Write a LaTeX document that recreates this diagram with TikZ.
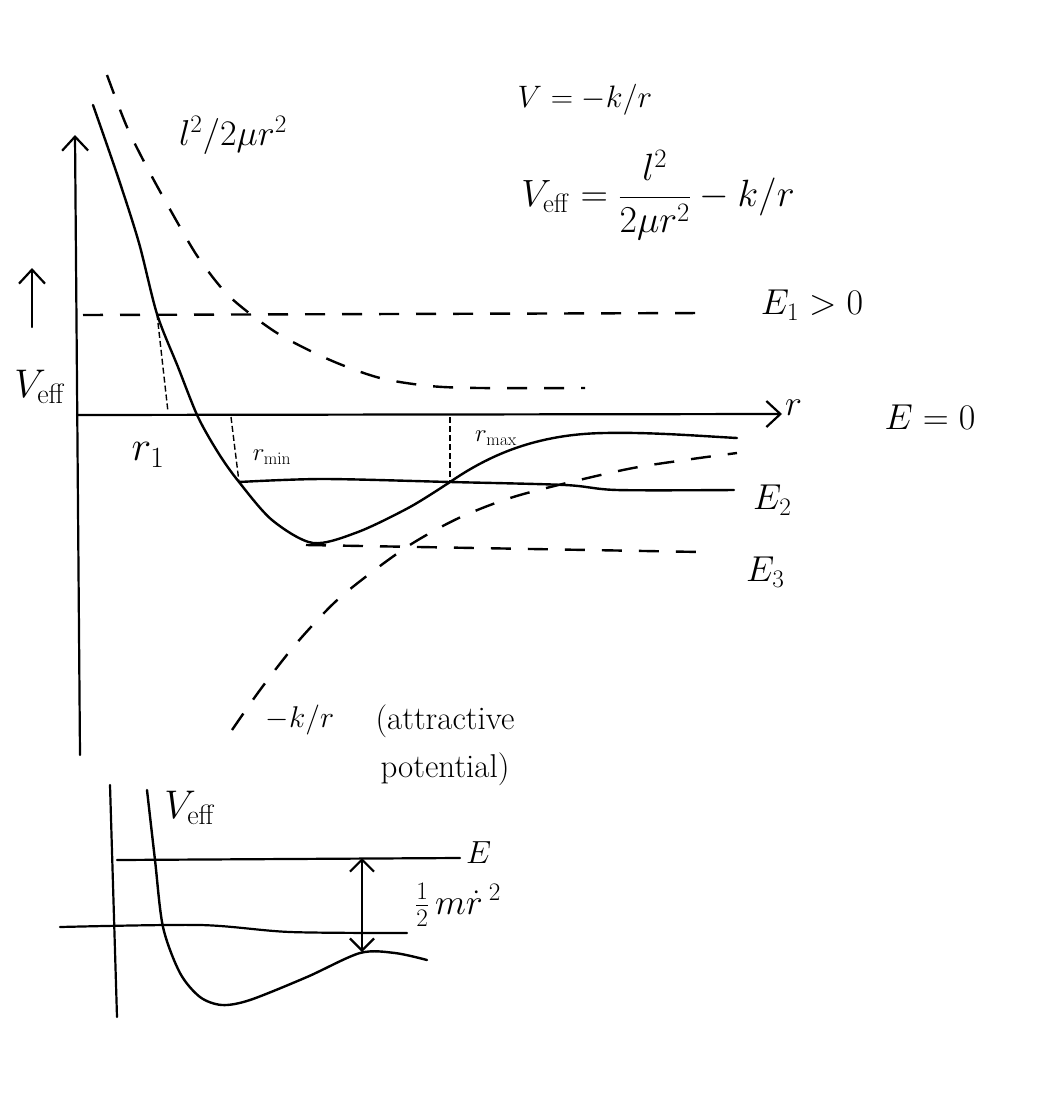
\RequirePackage{fix-cm}
\documentclass[tikz,border=0pt]{standalone}
\usepackage{amsmath}
\usetikzlibrary{arrows.meta}

\begin{document}
\begin{tikzpicture}[x=1pt, y=-1pt,
  ax/.style={line width=2.2pt, line cap=round},
  cv/.style={line width=2.4pt, line cap=round, line join=round},
  dl/.style={line width=2.4pt, dash pattern=on 20pt off 17pt},
  gd/.style={line width=1.4pt, dash pattern=on 6pt off 3pt},
  tip/.style={-{Straight Barb[length=14pt,width=26pt,line width=2.2pt]}},
  lbl/.style={font=\fontsize{36}{40}\selectfont, inner sep=1pt},
  sm/.style={font=\fontsize{25}{30}\selectfont, inner sep=1pt}]

\useasboundingbox (0,0) rectangle (1058,1103);

% main plot
\coordinate (O) at (77,415);
\coordinate (ytop) at (75,135);
\coordinate (ybot) at (80,755);
\coordinate (xend) at (782,414);
\draw[ax, tip] (ybot) -- (ytop);
\draw[ax, tip] (O) -- (xend);
\node[lbl, anchor=west] (rlab) at (784,408) {$r$};
\node[lbl] (ezero) at (930,417) {$E=0$};

\coordinate (ua) at (32,327);
\coordinate (ub) at (32,268);
\draw[ax, tip] (ua) -- (ub);
\node[font=\fontsize{40}{44}\selectfont, inner sep=1pt] (vlab) at (40,387) {$V_{\mathrm{eff}}$};

% turning points
\coordinate (p1) at (157,314);
\coordinate (q1) at (168,412);
\coordinate (pmin) at (239,482);
\coordinate (qmin) at (231,417);
\coordinate (pmax) at (450,482);
\coordinate (qmax) at (450,417);
\coordinate (vend) at (737,438);

% effective potential
\draw[cv] plot[smooth] coordinates {(93,105) (118,177) (139,243) (p1)
  (178,367) (198,417) (219,454) (pmin) (272,520) (313,543) (358,532)
  (410,507) (pmax)}
  .. controls (488,456) and (535,434) .. (605,433)
  .. controls (650,432) and (700,436) .. (vend);

% centrifugal and attractive parts
\draw[dl] plot[smooth] coordinates {(107,75) (127,127) (150,173) (180,227) (200,260)
  (230,297) (277,333) (330,360) (380,378) (430,386) (480,388) (585,388)};
\draw[dl] plot[smooth] coordinates {(232,730) (260,690) (295,645) (334,603) (372,572)
  (413,543) (461,517) (520,495) (623,470) (685,460) (737,453)};

% energy levels
\coordinate (e1a) at (83,315);
\coordinate (e1b) at (707,313);
\draw[dl] (e1a) -- (e1b);
\node[lbl] (e1lab) at (812,305) {$E_1>0$};

\draw[cv] plot[smooth] coordinates {(pmin) (323,479) (pmax) (565,485) (617,490) (734,490)};
\node[lbl, anchor=west] (e2lab) at (752,500) {$E_2$};

\coordinate (e3a) at (306,545);
\coordinate (e3b) at (701,552);
\draw[dl] (e3a) -- (e3b);
\node[lbl, anchor=west] (e3lab) at (745,572) {$E_3$};

\draw[gd] (p1) -- (q1);
\draw[gd] (qmin) -- (pmin);
\draw[gd] (qmax) -- (pmax);
\node[font=\fontsize{42}{46}\selectfont, inner sep=1pt] (r1lab) at (148,455) {$r_1$};
\node[sm] (rminlab) at (272,457) {$r_{\mathrm{min}}$};
\node[sm] (rmaxlab) at (496,438) {$r_{\mathrm{max}}$};

% formulae
\node[lbl] (cflab) at (233,135) {$l^2/2\mu r^2$};
\node[font=\fontsize{31}{34}\selectfont, inner sep=1pt] (vdef) at (585,100) {$V=-k/r$};
\node[font=\fontsize{38}{42}\selectfont, inner sep=1pt] (veffdef) at (658,195)
  {$V_{\mathrm{eff}}=\dfrac{l^2}{2\mu r^2}-k/r$};
\node[font=\fontsize{30}{34}\selectfont, inner sep=1pt] (kr) at (300,720) {$-k/r$};
\node[align=center, font=\fontsize{33}{48}\selectfont, inner sep=1pt] (att) at (445,745)
  {(attractive\\potential)};

% inset
\coordinate (iy0) at (117,1017);
\coordinate (iy1) at (110,785);
\coordinate (ix0) at (60,927);
\coordinate (ix1) at (407,933);
\draw[ax] (iy0) -- (iy1);
\draw[ax] plot[smooth] coordinates {(ix0) (200,925) (290,932) (ix1)};
\coordinate (ie0) at (117,860);
\coordinate (ie1) at (460,858);
\draw[ax] (ie0) -- (ie1);
\node[font=\fontsize{32}{36}\selectfont, inner sep=0pt, anchor=west] (ielab) at (466,853) {$E$};
\draw[cv] plot[smooth] coordinates {(147,790) (155,860) (163,927) (180,973) (200,997)
  (222,1005) (250,1000) (307,977) (360,953) (395,953) (427,960)};
\node[font=\fontsize{40}{44}\selectfont, inner sep=1pt] (iveff) at (190,808) {$V_{\mathrm{eff}}$};
\coordinate (ka) at (362,858);
\coordinate (kb) at (362,952);
\draw[ax, {Straight Barb[length=12pt,width=24pt,line width=2.2pt]}-{Straight Barb[length=12pt,width=24pt,line width=2.2pt]}] (ka) -- (kb);
\node[font=\fontsize{36}{40}\selectfont, inner sep=0pt] (kin) at (458,905) {$\frac12\,m\dot r\,{}^2$};
\end{tikzpicture}
\end{document}
